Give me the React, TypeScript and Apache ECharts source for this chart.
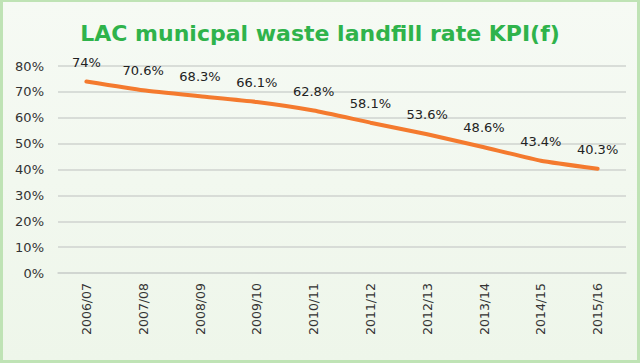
import React, { useEffect, useRef } from "react";
import * as echarts from "echarts";

const categories = ["2006/07", "2007/08", "2008/09", "2009/10", "2010/11", "2011/12", "2012/13", "2013/14", "2014/15", "2015/16"];
const landfillRate = [74, 70.6, 68.3, 66.1, 62.8, 58.1, 53.6, 48.6, 43.4, 40.3];
const labelTexts = ["74%", "70.6%", "68.3%", "66.1%", "62.8%", "58.1%", "53.6%", "48.6%", "43.4%", "40.3%"];
const titleText = "LAC municpal waste landfill rate KPI(f)";

export default function App() {
  const ref = useRef<HTMLDivElement>(null);
  useEffect(() => {
    if (!ref.current) return;
    const chart = echarts.init(ref.current, null, { renderer: "svg" });
    chart.setOption({
      animation: false,
      backgroundColor: "#bfe3b5",
      graphic: [
        {
          type: "rect",
          z: -10,
          silent: true,
          shape: { x: 3, y: 2, width: 634, height: 358 },
          style: {
            fill: {
              type: "linear", x: 0, y: 0, x2: 0, y2: 1,
              colorStops: [
                { offset: 0, color: "#f6faf4" },
                { offset: 1, color: "#eef6ea" },
              ],
            },
          },
        },
      ],
      title: {
        text: titleText,
        left: "center",
        top: 17,
        textStyle: {
          fontFamily: "DejaVu Sans",
          fontWeight: "bold",
          fontSize: 22,
          color: "#2fb34b",
        },
      },
      grid: { left: 58, right: 14, top: 66, bottom: 90 },
      xAxis: {
        type: "category",
        data: categories,
        boundaryGap: true,
        axisLine: { show: true, lineStyle: { color: "#cfd3cf", width: 1.5 } },
        axisTick: { show: false },
        axisLabel: {
          rotate: 90,
          margin: 10,
          fontFamily: "DejaVu Sans",
          fontSize: 12.5,
          color: "#333",
        },
      },
      yAxis: {
        type: "value",
        min: 0,
        max: 80,
        interval: 10,
        axisLine: { show: false },
        axisTick: { show: false },
        axisLabel: {
          formatter: "{value}%",
          margin: 14,
          fontFamily: "DejaVu Sans",
          fontSize: 13,
          color: "#333",
        },
        splitLine: { lineStyle: { color: "#cfd3cf", width: 1.5 } },
      },
      series: [
        {
          type: "line",
          data: landfillRate,
          smooth: 0.15,
          showSymbol: true,
          symbol: "circle",
          symbolSize: 4,
          lineStyle: { color: "#f47a2e", width: 4, cap: "round" },
          itemStyle: { color: "rgba(0,0,0,0)", borderWidth: 0 },
          label: {
            show: true,
            position: "top",
            distance: 11,
            fontFamily: "DejaVu Sans",
            fontSize: 13,
            color: "#222",
            formatter: (p: any) => labelTexts[p.dataIndex],
          },
        },
      ],
    });
    return () => chart.dispose();
  }, []);
  return (
    <div
      ref={ref}
      style={{ position: "absolute", left: 0, top: 0, width: 640, height: 363 }}
    />
  );
}
